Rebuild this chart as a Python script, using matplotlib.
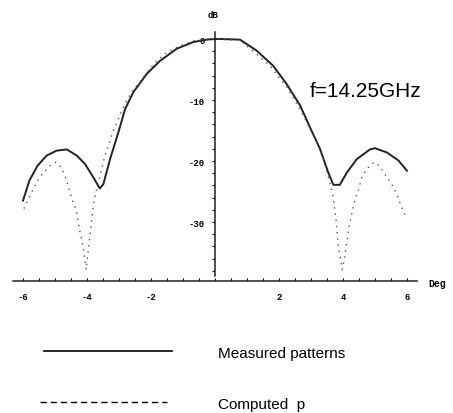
import matplotlib
matplotlib.use("Agg")
import matplotlib.pyplot as plt
from matplotlib.lines import Line2D
from matplotlib.ticker import MultipleLocator

# measured pattern (solid)
meas_deg = [-6.0, -5.8, -5.55, -5.26, -4.95, -4.63, -4.32, -4.06, -3.8, -3.6,
            -3.49, -3.28, -3.02, -2.81, -2.55, -2.13, -1.72, -1.2, -0.68, -0.26,
            0.0, 0.16, 0.78, 1.3, 1.82, 2.24, 2.66, 2.97, 3.28, 3.54,
            3.7, 3.9, 4.12, 4.43, 4.84, 5.0, 5.37, 5.73, 6.0]
meas_db = [-26.5, -23.2, -20.8, -19.1, -18.3, -18.1, -19.1, -20.5, -22.7, -24.5,
           -23.8, -19.7, -15.3, -11.5, -8.7, -5.7, -3.6, -1.6, -0.5, -0.1,
           0.0, 0.0, -0.1, -1.9, -4.4, -7.4, -10.9, -14.5, -18.0, -21.9,
           -23.9, -23.9, -21.9, -19.7, -18.1, -17.9, -18.6, -19.9, -21.6]

# computed pattern (dotted)
comp_deg = [-5.97, -5.83, -5.68, -5.52, -5.36, -5.16, -4.97, -4.81, -4.66, -4.55,
            -4.46, -4.34, -4.23, -4.13, -4.03, -3.85, -3.77, -3.54, -3.44, -3.33,
            -3.18, -3.02, -2.91, -2.76, -2.6, -2.45, -2.29, -2.08, -1.82, -1.51,
            -1.09, -0.68, -0.26, 0.0, 0.78, 1.3, 1.72, 2.24, 2.66, 2.92,
            3.18, 3.39, 3.59, 3.7, 3.78, 3.85, 3.98, 4.05, 4.17, 4.3,
            4.38, 4.48, 4.58, 4.74, 4.97, 5.14, 5.34, 5.52, 5.68, 5.83, 5.97]
comp_db = [-27.8, -26.2, -24.6, -23.0, -21.9, -20.8, -20.2, -21.0, -22.8, -24.8,
           -26.4, -28.0, -31.3, -33.8, -37.8, -29.5, -26.1, -21.3, -19.1, -17.5,
           -15.0, -13.1, -11.7, -10.1, -8.7, -7.7, -6.6, -5.2, -3.6, -2.2,
           -1.1, -0.3, -0.05, 0.0, -0.2, -2.5, -4.4, -7.9, -11.5, -14.2,
           -16.9, -19.7, -23.5, -26.2, -29.5, -33.9, -37.8, -35.8, -31.3, -28.0,
           -26.2, -24.8, -22.8, -21.3, -20.2, -20.8, -22.4, -23.8, -25.4, -27.6, -29.2]

x_ticks = [-6, -4, -2, 2, 4, 6]
x_labels = ["-6", "-4", "-2", "2", "4", "6"]
y_ticks = [-30, -20, -10, 0]
y_labels = ["-30", "-20", "-10", "0"]

W, H = 453, 414
fig = plt.figure(figsize=(W / 100, H / 100), dpi=100)
ax = fig.add_axes([10 / W, (H - 290) / H, 410 / W, 265 / H])
ax.set_xlim(-6.406, 6.406)
ax.set_ylim(-40.98, 2.46)

ax.plot(meas_deg, meas_db, color="#222222", lw=1.4, solid_joinstyle="round")
ax.plot(comp_deg, comp_db, color="#555555", lw=1.0, linestyle=(0, (1, 3.5)))

for s in ["top", "right"]:
    ax.spines[s].set_visible(False)
ax.spines["left"].set_position(("data", 0))
ax.spines["bottom"].set_position(("data", -39.7))
ax.spines["left"].set_bounds(-38.9, 1.15)
ax.spines["bottom"].set_bounds(-6.31, 6.31)
for s in ["left", "bottom"]:
    ax.spines[s].set_linewidth(1.1)
    ax.spines[s].set_color("#222222")

tick_font = dict(family="Liberation Mono", size=6.5, weight="bold")
ax.set_xticks(x_ticks)
ax.set_xticklabels(x_labels, fontdict=tick_font)
ax.xaxis.set_minor_locator(MultipleLocator(0.5))
ax.tick_params(axis="x", which="both", direction="in", length=2.5, width=0.8, pad=8)
ax.set_yticks(y_ticks)
ax.set_yticklabels(y_labels, fontdict=tick_font)
ax.set_yticks([v for v in range(-38, 1, 2)], minor=True)
ax.tick_params(axis="y", which="both", direction="out", length=2.2, width=0.8, pad=5)

fig.text(213 / W, 1 - 15 / H, "dB", ha="center", va="center", **tick_font)
fig.text(428 / W, 1 - 284 / H, "Deg", ha="left", va="center",
         family="Liberation Mono", size=7, weight="bold")
fig.text(310 / W, 1 - 97 / H, "f=14.25GHz", ha="left", va="baseline",
         family="Liberation Sans", size=15)

# legend drawn in figure pixels
fig.add_artist(Line2D([44 / W, 172 / W], [1 - 351.5 / H, 1 - 351.5 / H],
                      transform=fig.transFigure, color="black", lw=1.2))
fig.add_artist(Line2D([40 / W, 167 / W], [1 - 403 / H, 1 - 403 / H],
                      transform=fig.transFigure, color="black", lw=1.0,
                      linestyle=(0, (4.5, 2.8))))
fig.text(218 / W, 1 - 358 / H, "Measured patterns", ha="left", va="baseline",
         family="Liberation Sans", size=11)
fig.text(218 / W, 1 - 409 / H, "Computed  p", ha="left", va="baseline",
         family="Liberation Sans", size=11)

fig.savefig("out.png", dpi=100)
